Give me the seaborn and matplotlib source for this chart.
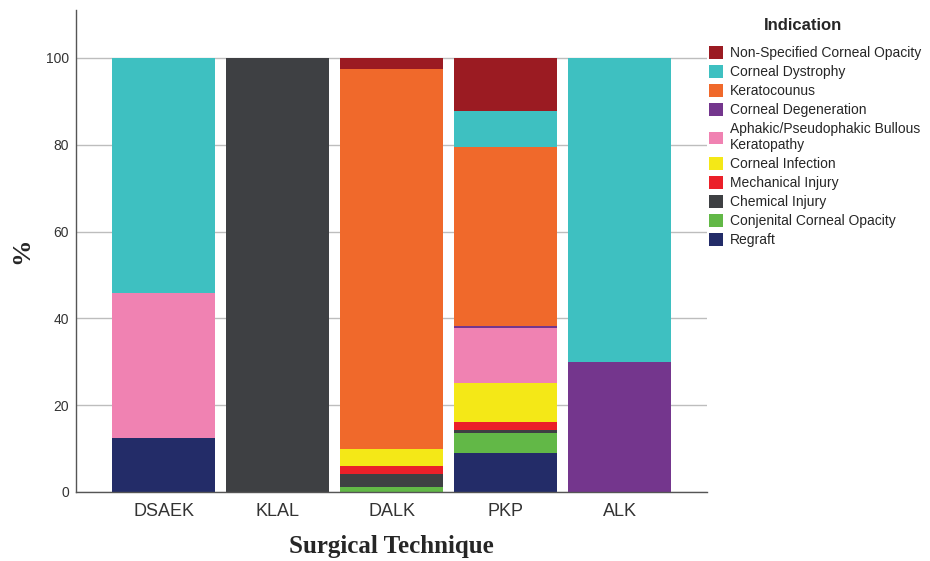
import pandas as pd
import matplotlib
matplotlib.use("Agg")
import matplotlib.pyplot as plt
from matplotlib.patches import Patch
import seaborn as sns

# --- data (percent of each surgical technique) ---
techniques = ["DSAEK", "KLAL", "DALK", "PKP", "ALK"]

indications = [
    "Non-Specified Corneal Opacity",
    "Corneal Dystrophy",
    "Keratocounus",
    "Corneal Degeneration",
    "Aphakic/Pseudophakic Bullous\nKeratopathy",
    "Corneal Infection",
    "Mechanical Injury",
    "Chemical Injury",
    "Conjenital Corneal Opacity",
    "Regraft",
]

non_specified = [0.0, 0.0, 2.5, 12.2, 0.0]
dystrophy = [54.2, 0.0, 0.0, 8.4, 70.0]
keratoconus = [0.0, 0.0, 87.6, 41.2, 0.0]
degeneration = [0.0, 0.0, 0.0, 0.5, 30.0]
bullous = [33.3, 0.0, 0.0, 12.7, 0.0]
infection = [0.0, 0.0, 3.8, 8.8, 0.0]
mechanical = [0.0, 0.0, 1.9, 1.9, 0.0]
chemical = [0.0, 100.0, 3.0, 0.8, 0.0]
conjenital = [0.0, 0.0, 1.2, 4.6, 0.0]
regraft = [12.5, 0.0, 0.0, 8.9, 0.0]

colors = ["#9B1B22", "#3EC0C1", "#F0692B", "#74368D", "#F082B2",
          "#F4E817", "#EB2029", "#3E4043", "#62B847", "#232C68"]

series = [non_specified, dystrophy, keratoconus, degeneration, bullous,
          infection, mechanical, chemical, conjenital, regraft]

rows = []
for ind, vals in zip(indications, series):
    for tech, v in zip(techniques, vals):
        rows.append({"technique": tech, "indication": ind, "pct": v})
df = pd.DataFrame(rows)

sns.set_style("white")

fig = plt.figure(figsize=(9.3, 5.61), dpi=100)
ax = fig.add_axes([0.0817, 0.123, 0.679, 0.859])

# stacking: first hue level ends up on top
sns.histplot(data=df, x="technique", weights="pct", hue="indication",
             hue_order=indications, palette=colors, multiple="stack",
             discrete=True, shrink=0.9, alpha=1, linewidth=0,
             legend=False, ax=ax)

ax.set_xlim(-0.77, 4.77)
ax.set_ylim(0, 111)
ax.set_yticks([0, 20, 40, 60, 80, 100])
ax.yaxis.grid(True, color="#BDBDBD", linewidth=1)
ax.set_axisbelow(True)
for s in ["top", "right"]:
    ax.spines[s].set_visible(False)
for s in ["left", "bottom"]:
    ax.spines[s].set_color("#555555")
    ax.spines[s].set_linewidth(1)

ax.tick_params(axis="y", length=0, pad=5, labelsize=10, labelcolor="#333333")
ax.tick_params(axis="x", length=0, pad=8, labelsize=13, labelcolor="#333333")
for lab in ax.get_xticklabels() + ax.get_yticklabels():
    lab.set_fontfamily("Liberation Sans")

ax.set_xlabel("Surgical Technique", fontsize=18, fontweight="bold",
              family="Liberation Serif", labelpad=11)
ax.set_ylabel("%", fontsize=19, fontweight="bold",
              family="Liberation Serif", labelpad=9)

# legend title drawn separately so it sits where the reference has it
fig.text(803 / 930, 1 - 26 / 561, "Indication", ha="center", va="center",
         fontsize=12, fontweight="bold", family="Liberation Sans")

handles = [Patch(facecolor=c, edgecolor="none") for c in colors]
leg = fig.legend(handles, indications, loc="upper left",
                 bbox_to_anchor=(0.752, 0.935), frameon=False,
                 prop={"family": "Liberation Sans", "size": 10},
                 handlelength=1.0, handleheight=1.0, handletextpad=0.5,
                 labelspacing=0.36, borderpad=0.2)

fig.savefig("out.png", dpi=100)
